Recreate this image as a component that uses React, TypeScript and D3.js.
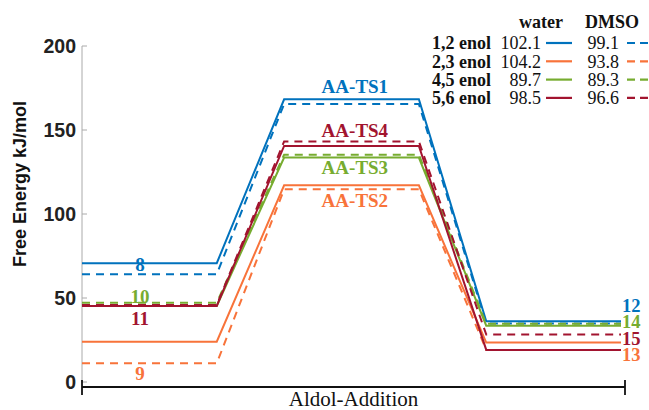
import React from "react";
import { scaleLinear, line } from "d3";

// energy levels (kJ/mol): reactant, transition state, product
const seriesNames = ["1,2 enol", "2,3 enol", "4,5 enol", "5,6 enol"];
const waterEnergies = [
  [70.7, 168.3, 36.2],
  [24.0, 117.1, 23.5],
  [45.3, 133.6, 33.5],
  [45.3, 140.5, 19.1],
];
const dmsoEnergies = [
  [64.1, 165.5, 34.8],
  [11.1, 114.7, 19.1],
  [47.2, 135.3, 34.6],
  [45.8, 143.2, 28.2],
];
const waterBarriers = ["102.1", "104.2", "89.7", "98.5"];
const dmsoBarriers = ["99.1", "93.8", "89.3", "96.6"];
const reactantLabels = ["8", "9", "10", "11"];
const tsLabels = ["AA-TS1", "AA-TS2", "AA-TS3", "AA-TS4"];
const productLabels = ["12", "13", "14", "15"];
const yTicks = [0, 50, 100, 150, 200];
const colors = ["#0072BD", "#F8733A", "#77AC30", "#A2142F"];

// label placement (pixel offsets from the matching level)
const reactantDy = [-10, 10, -10, 12];
const tsDy = [-13, 11, 10, -11];
const productY = [306, 355, 322, 338.5];

const serif = "Liberation Serif, Times New Roman, DejaVu Serif, serif";
const sans = "Liberation Sans, Arial, DejaVu Sans, sans-serif";

export default function App() {
  const width = 649;
  const height = 410;

  const x = scaleLinear().domain([0, 8]).range([82, 621]);
  const y = scaleLinear().domain([0, 200]).range([382, 46]);

  // each stage is a plateau of width 2 with a gap of 1 between
  const path = (vals) => {
    const pts = [];
    vals.forEach((v, i) => {
      pts.push([i * 3, v]);
      pts.push([i * 3 + 2, v]);
    });
    return line()
      .x((d) => x(d[0]))
      .y((d) => y(d[1]))(pts);
  };

  const axisY = 387;
  const axisEnd = x(8) + 4;

  return (
    <svg width={width} height={height} style={{ position: "absolute", left: 0, top: 0 }}>
      <rect width={width} height={height} fill="#fff" />

      {/* y axis */}
      <line x1={x(0)} x2={x(0)} y1={y(200)} y2={y(0)} stroke="#aaa" strokeWidth={1} />
      {yTicks.map((t) => (
        <g key={t}>
          <line x1={x(0)} x2={x(0) + 5} y1={y(t)} y2={y(t)} stroke="#aaa" strokeWidth={1} />
          <text
            x={x(0) - 6}
            y={y(t)}
            dy="0.36em"
            textAnchor="end"
            style={{ fontFamily: sans, fontWeight: "bold", fontSize: 19.5 }}
            fill="#222"
          >
            {t}
          </text>
        </g>
      ))}
      <text
        transform={`translate(20,184) rotate(-90)`}
        textAnchor="middle"
        dy="0.36em"
        style={{ fontFamily: sans, fontWeight: "bold", fontSize: 18 }}
        fill="#111"
      >
        Free Energy kJ/mol
      </text>

      {/* bottom axis */}
      <line x1={x(0)} x2={axisEnd} y1={axisY} y2={axisY} stroke="#111" strokeWidth={1.8} />
      <line x1={x(0)} x2={x(0)} y1={axisY - 7} y2={axisY + 8} stroke="#111" strokeWidth={1.8} />
      <line x1={axisEnd} x2={axisEnd} y1={axisY - 7} y2={axisY + 8} stroke="#111" strokeWidth={1.8} />
      <text
        x={(x(0) + axisEnd) / 2}
        y={406}
        textAnchor="middle"
        style={{ fontFamily: serif, fontSize: 21 }}
        fill="#111"
      >
        Aldol-Addition
      </text>

      {/* energy profiles */}
      {seriesNames.map((name, i) => (
        <g key={name}>
          <path d={path(waterEnergies[i])} fill="none" stroke={colors[i]} strokeWidth={2} />
          <path
            d={path(dmsoEnergies[i])}
            fill="none"
            stroke={colors[i]}
            strokeWidth={2}
            strokeDasharray="8,6"
          />
        </g>
      ))}

      {/* level labels */}
      {seriesNames.map((name, i) => (
        <g
          key={name + "lab"}
          style={{ fontFamily: serif, fontWeight: "bold", fontSize: 19 }}
          fill={colors[i]}
        >
          <text
            x={x(0.86)}
            y={y(Math.min(waterEnergies[i][0], dmsoEnergies[i][0])) + reactantDy[i]}
            dy="0.35em"
            textAnchor="middle"
          >
            {reactantLabels[i]}
          </text>
          <text
            x={x(4.05)}
            y={
              y(
                tsDy[i] < 0
                  ? Math.max(waterEnergies[i][1], dmsoEnergies[i][1])
                  : Math.min(waterEnergies[i][1], dmsoEnergies[i][1])
              ) + tsDy[i]
            }
            dy="0.35em"
            textAnchor="middle"
          >
            {tsLabels[i]}
          </text>
          <text
            x={x(8) + 1}
            y={productY[i]}
            dy="0.35em"
            textAnchor="start"
            style={{ fontSize: 18.5 }}
          >
            {productLabels[i]}
          </text>
        </g>
      ))}

      {/* legend */}
      <g style={{ fontFamily: serif, fontSize: 18 }} fill="#111">
        <text x={541} y={22} dy="0.35em" textAnchor="middle" fontWeight="bold">
          water
        </text>
        <text x={612} y={22} dy="0.35em" textAnchor="middle" fontWeight="bold">
          DMSO
        </text>
        {seriesNames.map((name, i) => {
          const ry = 43 + i * 18.3;
          return (
            <g key={name + "leg"}>
              <text x={491} y={ry} dy="0.35em" textAnchor="end" fontWeight="bold">
                {name}
              </text>
              <text x={541} y={ry} dy="0.35em" textAnchor="end">
                {waterBarriers[i]}
              </text>
              <line x1={546} x2={572} y1={ry} y2={ry} stroke={colors[i]} strokeWidth={2.2} />
              <text x={619} y={ry} dy="0.35em" textAnchor="end">
                {dmsoBarriers[i]}
              </text>
              <line
                x1={627}
                x2={649}
                y1={ry}
                y2={ry}
                stroke={colors[i]}
                strokeWidth={2.2}
                strokeDasharray="8,5"
              />
            </g>
          );
        })}
      </g>
    </svg>
  );
}
